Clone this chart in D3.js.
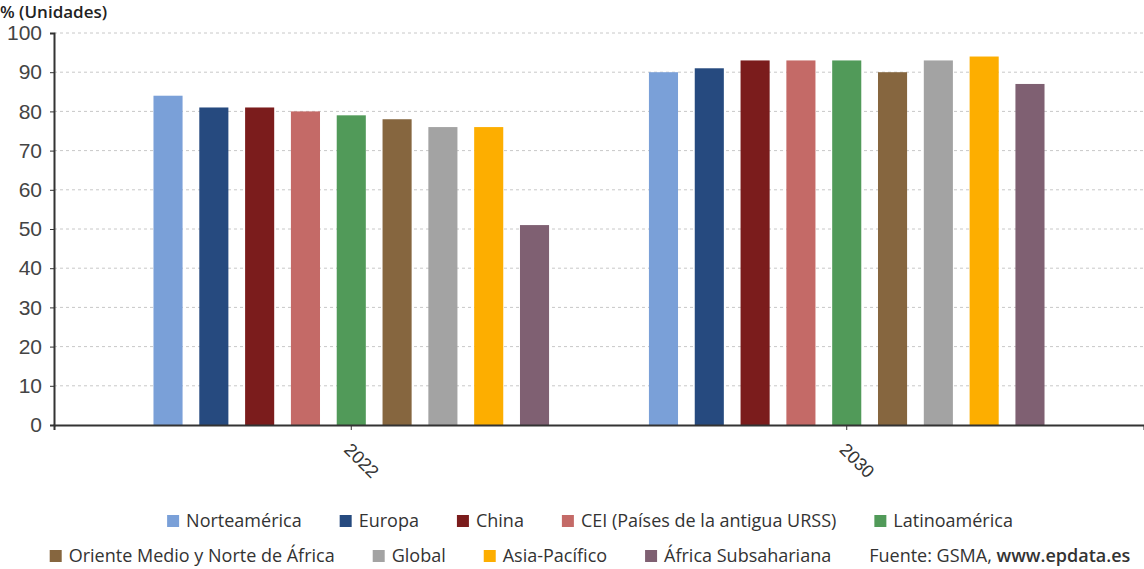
<!DOCTYPE html>
<html>
<head>
<meta charset="utf-8">
<title>Cobertura por regiones</title>
<script src="https://d3js.org/d3.v7.min.js"></script>
<style>
  body { margin: 0; background: #fff; }
  svg { font-family: "Open Sans", sans-serif; }
</style>
</head>
<body>
<div id="chart"></div>
<script>
// data
const years = ["2022", "2030"];
const regions = ["Norteamérica", "Europa", "China", "CEI (Países de la antigua URSS)", "Latinoamérica",
  "Oriente Medio y Norte de África", "Global", "Asia-Pacífico", "África Subsahariana"];
const values2022 = [84, 81, 81, 80, 79, 78, 76, 76, 51];
const values2030 = [90, 91, 93, 93, 93, 90, 93, 94, 87];
const colors = ["#7aa0d8", "#264a7f", "#7b1c1c", "#c46a67", "#519a59", "#86663f", "#a3a3a3", "#fdae00", "#7f6072"];
const yTicks = [0, 10, 20, 30, 40, 50, 60, 70, 80, 90, 100];

const W = 1144, H = 569;
const plotLeft = 54, plotRight = 1144, plotTop = 33, plotBottom = 425;

const svg = d3.select("#chart").append("svg")
  .attr("width", W).attr("height", H);

const y = d3.scaleLinear().domain([0, 100]).range([plotBottom, plotTop]);

const x0 = d3.scaleBand().domain(years).range([plotLeft, plotRight]).paddingOuter(0.1).paddingInner(0);
const x1 = d3.scaleBand().domain(regions).range([0, x0.bandwidth()])
  .paddingInner(0.365).paddingOuter(1.09);

// gridlines
svg.append("g").selectAll("line")
  .data(yTicks.filter(d => d > 0))
  .join("line")
  .attr("x1", plotLeft).attr("x2", plotRight)
  .attr("y1", d => y(d)).attr("y2", d => y(d))
  .attr("stroke", "#c8c8c8").attr("stroke-dasharray", "3,3");

// bars
const rows = years.map((yr, i) => ({ year: yr, vals: i === 0 ? values2022 : values2030 }));
svg.append("g").selectAll("g")
  .data(rows)
  .join("g")
  .attr("transform", d => "translate(" + x0(d.year) + ",0)")
  .selectAll("rect")
  .data(d => d.vals.map((v, i) => ({ region: regions[i], value: v, color: colors[i] })))
  .join("rect")
  .attr("x", d => x1(d.region))
  .attr("width", x1.bandwidth())
  .attr("y", d => y(d.value))
  .attr("height", d => y(0) - y(d.value))
  .attr("fill", d => d.color);

// y axis
const yAxis = svg.append("g")
  .attr("transform", "translate(" + plotLeft + ",0)")
  .call(d3.axisLeft(y).tickValues(yTicks).tickSize(4).tickPadding(8));
yAxis.select(".domain").attr("stroke", "#333").attr("stroke-width", 2);
yAxis.selectAll(".tick line").attr("stroke", "#333");
yAxis.selectAll("text").attr("font-size", 21).attr("fill", "#444");

// x axis
const xAxis = svg.append("g")
  .attr("transform", "translate(0," + plotBottom + ")")
  .call(d3.axisBottom(x0).tickSize(5).tickPadding(0));
xAxis.select(".domain").attr("stroke", "#333").attr("stroke-width", 2);
xAxis.selectAll(".tick line").attr("stroke", "#333");
xAxis.selectAll("text")
  .attr("font-size", 18).attr("fill", "#333")
  .attr("text-anchor", "middle")
  .attr("transform", "translate(14,32) rotate(45)")
  .attr("dy", "0.35em");

// unit title
svg.append("text")
  .attr("x", 0).attr("y", 18)
  .attr("font-size", 17).attr("font-weight", 600).attr("fill", "#222")
  .text("% (Unidades)");

// legend
function legendRow(items, yPos, cx) {
  const g = svg.append("g");
  const gap = 38, sq = 12, tgap = 7;
  let xPos = 0;
  items.forEach(it => {
    const item = g.append("g").attr("transform", "translate(" + xPos + ",0)");
    let tx = 0;
    if (it.color) {
      item.append("rect").attr("x", 0).attr("y", yPos - 6).attr("width", sq).attr("height", sq)
        .attr("fill", it.color);
      tx = sq + tgap;
    }
    const t = item.append("text").attr("x", tx).attr("y", yPos).attr("dy", "0.35em")
      .attr("font-size", 18).attr("fill", "#333");
    if (it.bold) {
      t.append("tspan").text(it.label);
      t.append("tspan").attr("font-weight", 600).text(it.bold);
    } else {
      t.text(it.label);
    }
    xPos += tx + t.node().getComputedTextLength() + gap;
  });
  const total = xPos - gap;
  g.attr("transform", "translate(" + (cx - total / 2) + ",0)");
}

legendRow(regions.slice(0, 5).map((r, i) => ({ label: r, color: colors[i] })), 521, 590);
legendRow(regions.slice(5).map((r, i) => ({ label: r, color: colors[i + 5] }))
  .concat([{ label: "Fuente: GSMA, ", bold: "www.epdata.es" }]), 556, 590);
</script>
</body>
</html>
